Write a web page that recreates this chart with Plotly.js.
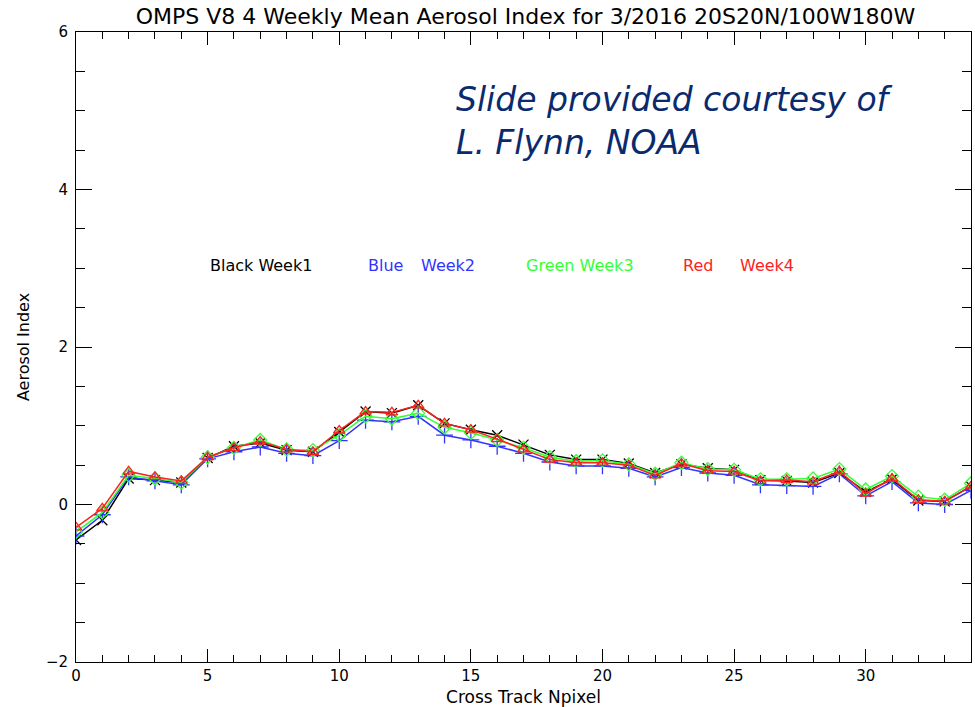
<!DOCTYPE html>
<html>
<head>
<meta charset="utf-8">
<script src="https://cdn.plot.ly/plotly-3.0.1.min.js"></script>
<style>html,body{margin:0;padding:0;background:#fff;}#chart{width:975px;height:707px;}</style>
</head>
<body>
<div id="chart"></div>
<script>
const npixel = [0,1,2,3,4,5,6,7,8,9,10,11,12,13,14,15,16,17,18,19,20,21,22,23,24,25,26,27,28,29,30,31,32,33,34];
const week1 = [-0.45,-0.2,0.33,0.31,0.28,0.59,0.74,0.78,0.69,0.67,0.92,1.18,1.16,1.26,1.03,0.95,0.88,0.76,0.63,0.57,0.57,0.52,0.40,0.51,0.46,0.44,0.31,0.30,0.28,0.40,0.16,0.32,0.05,0.04,0.23];
const week2 = [-0.40,-0.13,0.35,0.30,0.25,0.58,0.67,0.73,0.65,0.62,0.81,1.07,1.05,1.12,0.88,0.82,0.74,0.65,0.54,0.49,0.49,0.46,0.35,0.47,0.40,0.37,0.25,0.24,0.23,0.39,0.11,0.29,0.02,0.00,0.18];
const week3 = [-0.35,-0.10,0.37,0.33,0.28,0.60,0.72,0.82,0.70,0.69,0.88,1.12,1.09,1.16,0.98,0.91,0.82,0.72,0.60,0.55,0.56,0.51,0.39,0.53,0.45,0.44,0.32,0.32,0.33,0.45,0.19,0.36,0.10,0.06,0.27];
const week4 = [-0.29,-0.05,0.42,0.35,0.30,0.60,0.72,0.80,0.70,0.67,0.94,1.18,1.17,1.26,1.03,0.95,0.83,0.70,0.57,0.53,0.53,0.50,0.37,0.52,0.43,0.42,0.30,0.31,0.29,0.42,0.14,0.33,0.06,0.04,0.23];

const seriesNames = ['Week1','Week2','Week3','Week4'];
const seriesColors = ['#000000','#3333ff','#33ff33','#ff2020'];
const seriesSymbols = ['x-thin-open','cross-thin-open','diamond-open','triangle-up-open'];
const seriesData = [week1, week2, week3, week4];

const legendLabels = ['Black Week1','Blue','Week2','Green Week3','Red','Week4'];
const legendColors = ['#000000','#3333ff','#3333ff','#33ff33','#ff2020','#ff2020'];
const legendX = [5, 11, 13.03, 17, 23, 25.15];
const legendY = 3.04;

const traces = seriesData.map((d, i) => ({
  x: npixel, y: d, type: 'scatter', mode: 'lines+markers', name: seriesNames[i],
  line: {color: seriesColors[i], width: 1.5},
  marker: {symbol: seriesSymbols[i], size: i===1 ? 12 : 10, color: seriesColors[i], line: {color: seriesColors[i], width: 1.3}},
  cliponaxis: true
}));

const font = 'DejaVu Sans, sans-serif';
const annotations = legendLabels.map((t, i) => ({
  x: legendX[i], y: legendY, xref: 'x', yref: 'y', text: t, showarrow: false,
  xanchor: 'left', yanchor: 'middle', font: {family: font, size: 16, color: legendColors[i]}
}));
annotations.push({
  x: (454-76)/895, y: (662-78)/630, xref: 'paper', yref: 'paper', xanchor: 'left', yanchor: 'top', align: 'left',
  showarrow: false, text: '<i>Slide provided courtesy of<br>L. Flynn, NOAA</i>',
  font: {family: 'DejaVu Sans, sans-serif', size: 33, color: '#0a2a6e'}
});

const layout = {
  width: 975, height: 707,
  margin: {l: 76, r: 4, t: 32, b: 45, pad: 0},
  paper_bgcolor: '#fff', plot_bgcolor: '#fff',
  showlegend: false,
  title: {text: 'OMPS V8 4 Weekly Mean Aerosol Index for 3/2016 20S20N/100W180W', x: 0.539, xanchor: 'center', y: 0.988, yanchor: 'top', font: {family: font, size: 22, color: '#000'}},
  xaxis: {
    range: [0, 34], tickmode: 'linear', tick0: 0, dtick: 5, ticks: 'inside', ticklen: 13, tickwidth: 1, tickcolor: '#000',
    minor: {dtick: 1, ticks: 'inside', ticklen: 7, tickwidth: 1, tickcolor: '#000', showgrid: false},
    showline: true, linecolor: '#000', linewidth: 1, mirror: 'allticks', showgrid: false, zeroline: false,
    tickfont: {family: font, size: 15, color: '#000'},
    title: {text: 'Cross Track Npixel', font: {family: font, size: 17, color: '#000'}, standoff: 7}
  },
  yaxis: {
    range: [-2, 6], tickmode: 'linear', tick0: -2, dtick: 2, ticks: 'inside', ticklen: 16, tickwidth: 1, tickcolor: '#000',
    minor: {dtick: 0.5, ticks: 'inside', ticklen: 9, tickwidth: 1, tickcolor: '#000', showgrid: false},
    showline: true, linecolor: '#000', linewidth: 1, mirror: 'allticks', showgrid: false, zeroline: false,
    tickfont: {family: font, size: 15, color: '#000'}, ticklabelstandoff: 4,
    title: {text: 'Aerosol Index', font: {family: font, size: 16, color: '#000'}, standoff: 12}
  },
  annotations: annotations
};

Plotly.newPlot('chart', traces, layout, {displayModeBar: false, staticPlot: true});
</script>
</body>
</html>
